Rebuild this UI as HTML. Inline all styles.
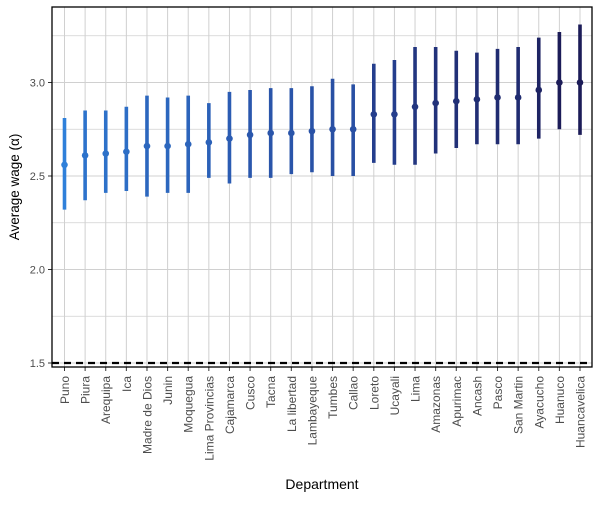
<!DOCTYPE html>
<html><head><meta charset="utf-8"><style>
body{margin:0;background:#fff;font-family:"Liberation Sans",sans-serif}
</style></head><body>
<svg id="c" width="600" height="500" xmlns="http://www.w3.org/2000/svg"></svg>
<script>
const categories=["Puno","Piura","Arequipa","Ica","Madre de Dios","Junin","Moquegua","Lima Provincias","Cajamarca","Cusco","Tacna","La libertad","Lambayeque","Tumbes","Callao","Loreto","Ucayali","Lima","Amazonas","Apurimac","Ancash","Pasco","San Martin","Ayacucho","Huanuco","Huancavelica"];
const means=[2.56,2.61,2.62,2.63,2.66,2.66,2.67,2.68,2.70,2.72,2.73,2.73,2.74,2.75,2.75,2.83,2.83,2.87,2.89,2.90,2.91,2.92,2.92,2.96,3.00,3.00];
const lows=[2.32,2.37,2.41,2.42,2.39,2.41,2.41,2.49,2.46,2.49,2.49,2.51,2.52,2.50,2.50,2.57,2.56,2.56,2.62,2.65,2.67,2.67,2.67,2.70,2.75,2.72];
const highs=[2.81,2.85,2.85,2.87,2.93,2.92,2.93,2.89,2.95,2.96,2.97,2.97,2.98,3.02,2.99,3.10,3.12,3.19,3.19,3.17,3.16,3.18,3.19,3.24,3.27,3.31];
const yTicks=[1.5,2.0,2.5,3.0];
const refLine=1.5;
const svg=document.getElementById('c');const NS="http://www.w3.org/2000/svg";
const L=52,R=592,T=7,B=367;
const y=v=>82.5-(v-3.0)*187;
const x=i=>64.5+i*(580-64.5)/(categories.length-1);
function mk(t,a,p){const e=document.createElementNS(NS,t);for(const k in a)e.setAttribute(k,a[k]);(p||svg).appendChild(e);return e;}
function lerp(a,b,t){return a.map((v,i)=>Math.round(v+(b[i]-v)*t));}
function col(v){const mn=Math.min(...means),mx=Math.max(...means);const t=(v-mn)/(mx-mn);
 const c1=[47,128,218],c2=[40,72,156],c3=[28,28,88];
 const c=t<0.5?lerp(c1,c2,t*2):lerp(c2,c3,(t-0.5)*2);return `rgb(${c})`;}
for(let v=1.25;v<=3.5;v+=0.25){const yy=y(v);if(yy<T||yy>B)continue;
 const g=mk('line',{x1:L,x2:R,y1:yy,y2:yy,stroke:'#d0d0d0','stroke-width':Number.isInteger(v*2)?1:0.8});
 }
categories.forEach((c,i)=>{const g=mk('line',{x1:x(i),x2:x(i),y1:T,y2:B,stroke:'#d0d0d0','stroke-width':1});
 });
const rl=mk('line',{x1:L,x2:R,y1:y(refLine),y2:y(refLine),stroke:'#000','stroke-width':2.2,'stroke-dasharray':'7,5'});

categories.forEach((c,i)=>{const cl=col(means[i]);
 const ln=mk('line',{x1:x(i),x2:x(i),y1:y(lows[i]),y2:y(highs[i]),stroke:cl,'stroke-width':3.6});
 
 const p=mk('circle',{cx:x(i),cy:y(means[i]),r:3.3,fill:cl});
 
 const tk=mk('line',{x1:x(i),x2:x(i),y1:B,y2:B+4,stroke:'#333'});
 
 const t=mk('text',{x:0,y:0,transform:`translate(${x(i)+4.5},${B+9}) rotate(-90)`,'text-anchor':'end','font-size':12,fill:'#4d4d4d'});
 t.textContent=c;});
yTicks.forEach(v=>{const tk=mk('line',{x1:L-4,x2:L,y1:y(v),y2:y(v),stroke:'#333'});
 
 const t=mk('text',{x:L-7,y:y(v)+4,'text-anchor':'end','font-size':11,fill:'#4d4d4d'});t.textContent=v.toFixed(1);
 });
const fr=mk('rect',{x:L,y:T,width:R-L,height:B-T,fill:'none',stroke:'#000','stroke-width':1.3});

const xt=mk('text',{x:(L+R)/2,y:489,'text-anchor':'middle','font-size':14,fill:'#000'});xt.textContent='Department';

const yt=mk('text',{x:0,y:0,transform:`translate(19,${(T+B)/2}) rotate(-90)`,'text-anchor':'middle','font-size':13.5,fill:'#000'});yt.textContent='Average wage (α)';

</script>
</body></html>
